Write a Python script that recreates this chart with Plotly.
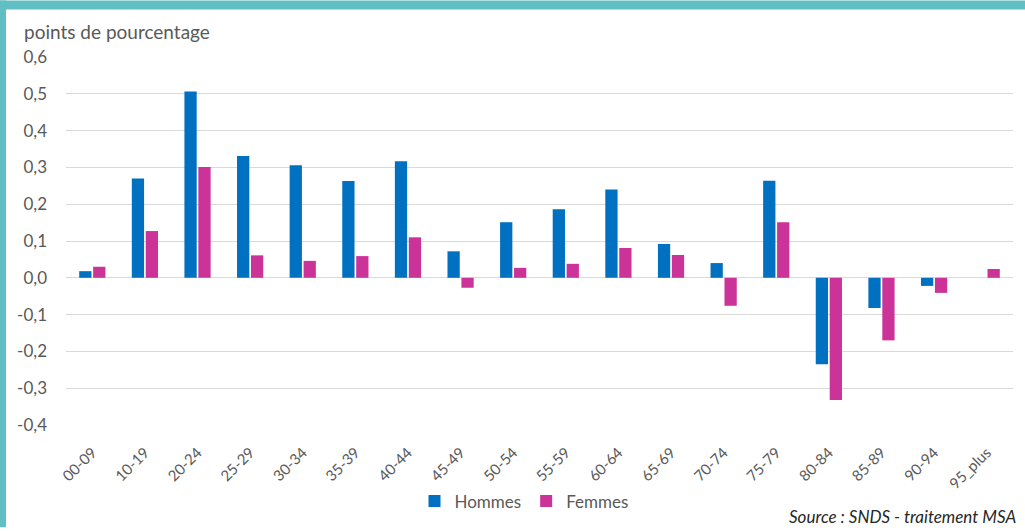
import plotly.graph_objects as go

categories = ["00-09", "10-19", "20-24", "25-29", "30-34", "35-39", "40-44", "45-49",
              "50-54", "55-59", "60-64", "65-69", "70-74", "75-79", "80-84", "85-89",
              "90-94", "95_plus"]
hommes = [0.018, 0.270, 0.506, 0.331, 0.306, 0.263, 0.317, 0.072,
          0.151, 0.186, 0.240, 0.092, 0.040, 0.264, -0.235, -0.082,
          -0.022, 0.0]
femmes = [0.030, 0.127, 0.301, 0.061, 0.046, 0.059, 0.110, -0.027,
          0.027, 0.038, 0.081, 0.062, -0.076, 0.151, -0.332, -0.170,
          -0.041, 0.024]
y_tickvals = [-0.4, -0.3, -0.2, -0.1, 0.0, 0.1, 0.2, 0.3, 0.4, 0.5, 0.6]
y_ticktext = ["-0,4", "-0,3", "-0,2", "-0,1", "0,0", "0,1", "0,2", "0,3", "0,4", "0,5", "0,6"]

W, H = 1025, 531
ML, MR, MT, MB = 66, 12, 57, 103
PW, PH = W - ML - MR, H - MT - MB

def px_x(x):
    return (x - ML) / PW

def px_y(y):
    return (H - MB - y) / PH

FONT = "Lato, 'Open Sans', sans-serif"
GRAY = "#595959"

fig = go.Figure()
fig.add_trace(go.Bar(x=categories, y=hommes, name="Hommes",
                     marker=dict(color="#0070C0", line=dict(width=0))))
fig.add_trace(go.Bar(x=categories, y=femmes, name="Femmes",
                     marker=dict(color="#CC3399", line=dict(width=0))))

fig.update_layout(
    width=W, height=H,
    margin=dict(l=ML, r=MR, t=MT, b=MB),
    paper_bgcolor="white", plot_bgcolor="white",
    barmode="group", bargap=0.47, bargroupgap=0.12,
    font=dict(family=FONT, color=GRAY, size=14),
    legend=dict(orientation="h", x=px_x(524), xanchor="center", y=px_y(505), yanchor="middle",
                bgcolor="rgba(0,0,0,0)",
                font=dict(size=17, color=GRAY), itemwidth=30, traceorder="normal"),
    xaxis=dict(type="category", tickangle=-45, showgrid=False, showline=False,
               ticks="outside", ticklen=12, tickcolor="rgba(0,0,0,0)",
               tickfont=dict(size=15, color=GRAY)),
    yaxis=dict(range=[-0.4, 0.6], tickvals=y_tickvals, ticktext=y_ticktext,
               showgrid=True, gridcolor="#D9D9D9", gridwidth=1,
               zeroline=True, zerolinecolor="#D9D9D9", zerolinewidth=1,
               showline=False, ticks="", ticklabelstandoff=18,
               tickfont=dict(size=17, color=GRAY)),
    shapes=[
        dict(type="rect", xref="paper", yref="paper",
             x0=px_x(0), x1=px_x(W), y0=px_y(9), y1=px_y(0),
             fillcolor="#5FBFC2", line=dict(width=0), layer="above"),
        dict(type="rect", xref="paper", yref="paper",
             x0=px_x(0), x1=px_x(6), y0=px_y(H), y1=px_y(0),
             fillcolor="#5FBFC2", line=dict(width=0), layer="above"),
    ],
    annotations=[
        dict(text="points de pourcentage", xref="paper", yref="paper",
             x=px_x(22), y=px_y(31), xanchor="left", yanchor="middle",
             showarrow=False, font=dict(size=19, color=GRAY)),
        dict(text="<i>Source : SNDS - traitement MSA</i>", xref="paper", yref="paper",
             x=px_x(1018), y=px_y(520), xanchor="right", yanchor="middle",
             showarrow=False, font=dict(size=17, color="#262626")),
    ],
)

fig.write_html("out.html", config={"displayModeBar": False},
               post_script="document.body.style.margin='0';document.body.style.overflow='hidden';")
